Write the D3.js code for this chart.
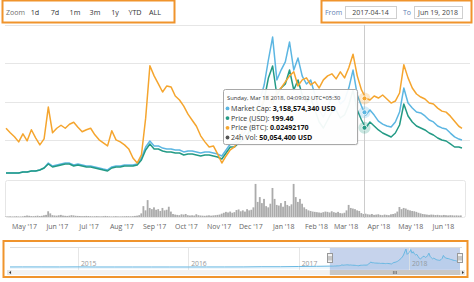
<!DOCTYPE html>
<html>
<head>
<meta charset="utf-8">
<script src="https://cdn.jsdelivr.net/npm/d3@7"></script>
<style>
  body { margin: 0; background: #fff; }
  svg { display: block; font-family: "Open Sans", sans-serif; }
</style>
</head>
<body>
<div id="chart"></div>
<script>

// ---- data ----
const startDate = "2017-04-14";
const endDate = "2018-06-19";

// line series: every 4 days from start, last point on end date
const lineDays = d3.range(0, 429, 4).concat([431]);

const marketCapB = [
    0.33, 0.33, 0.33, 0.33, 0.37, 0.37, 0.42, 0.42, 0.47, 0.56,
    0.79, 0.65, 0.70, 0.75, 0.79, 0.79, 0.70, 0.75, 0.70, 0.65,
    0.65, 0.61, 0.56, 0.51, 0.47, 0.61, 0.65, 0.65, 0.70, 0.70,
    0.70, 0.75, 1.03, 1.54, 1.82, 1.59, 1.59, 1.49, 1.45, 1.45,
    1.40, 1.40, 1.31, 1.35, 1.35, 1.31, 1.26, 1.31, 1.31, 1.26,
    1.21, 1.12, 1.40, 1.68, 1.73, 1.91, 2.10, 2.43, 2.80, 3.17,
    3.73, 4.43, 5.60, 6.67, 4.67, 5.13, 5.51, 6.44, 5.13, 5.69,
    4.85, 4.48, 4.67, 3.97, 3.27, 2.94, 3.41, 3.87, 4.01, 3.55,
    3.73, 4.29, 5.13, 3.97, 3.45, 3.03, 3.27, 3.03, 2.75, 2.61,
    2.52, 2.47, 2.71, 3.17, 4.29, 3.59, 3.36, 3.17, 3.13, 2.99,
    2.80, 2.71, 2.52, 2.43, 2.38, 2.19, 2.01, 1.91, 1.87
];

const priceUsd = [
    23.4, 23.4, 23.4, 23.4, 27.3, 27.3, 31.1, 31.1, 35.0, 42.8,
    58.4, 46.7, 50.6, 54.5, 58.4, 58.4, 50.6, 54.5, 50.6, 46.7,
    46.7, 42.8, 38.9, 35.0, 31.1, 42.8, 46.7, 46.7, 50.6, 50.6,
    50.6, 54.5, 74.0, 113.0, 136.3, 116.8, 116.8, 109.0, 105.1, 105.1,
    101.2, 101.2, 93.4, 97.3, 97.3, 93.4, 89.5, 93.4, 93.4, 89.5,
    85.6, 77.9, 101.2, 124.6, 124.6, 140.1, 151.8, 171.3, 198.5, 221.9,
    260.8, 307.5, 393.2, 439.9, 327.0, 354.3, 369.8, 424.3, 346.5, 385.4,
    327.0, 299.8, 315.3, 268.6, 221.9, 198.5, 229.7, 260.8, 268.6, 237.5,
    249.2, 288.1, 346.5, 268.6, 229.7, 198.5, 221.9, 206.3, 190.8, 179.1,
    171.3, 163.5, 179.1, 210.2, 292.0, 245.3, 221.9, 206.3, 198.5, 190.8,
    179.1, 171.3, 159.6, 151.8, 147.9, 136.3, 124.6, 124.6, 120.7
];

const priceBtc = [
    0.0190, 0.0181, 0.0173, 0.0163, 0.0179, 0.0165, 0.0187, 0.0171, 0.0157, 0.0169,
    0.0232, 0.0181, 0.0190, 0.0196, 0.0190, 0.0198, 0.0202, 0.0192, 0.0183, 0.0187,
    0.0190, 0.0177, 0.0167, 0.0161, 0.0155, 0.0185, 0.0167, 0.0163, 0.0157, 0.0149,
    0.0131, 0.0121, 0.0137, 0.0210, 0.0314, 0.0294, 0.0278, 0.0262, 0.0274, 0.0272,
    0.0254, 0.0246, 0.0234, 0.0218, 0.0206, 0.0194, 0.0175, 0.0163, 0.0153, 0.0155,
    0.0139, 0.0121, 0.0135, 0.0147, 0.0153, 0.0167, 0.0187, 0.0202, 0.0210, 0.0222,
    0.0230, 0.0246, 0.0256, 0.0238, 0.0262, 0.0270, 0.0282, 0.0294, 0.0302, 0.0274,
    0.0286, 0.0290, 0.0276, 0.0282, 0.0270, 0.0286, 0.0294, 0.0298, 0.0288, 0.0302,
    0.0290, 0.0310, 0.0337, 0.0294, 0.0266, 0.0250, 0.0246, 0.0254, 0.0250, 0.0256,
    0.0248, 0.0240, 0.0244, 0.0260, 0.0316, 0.0290, 0.0270, 0.0258, 0.0252, 0.0248,
    0.0240, 0.0238, 0.0230, 0.0224, 0.0222, 0.0214, 0.0204, 0.0194, 0.0190
];

// 24h volume (million USD), every 2 days from start
const volumeM = [
    8, 10, 12, 9, 11, 14, 10, 9, 12, 18,
    25, 20, 15, 14, 18, 22, 16, 20, 28, 35,
    95, 60, 30, 25, 22, 28, 35, 24, 20, 18,
    22, 30, 26, 20, 18, 16, 14, 15, 18, 16,
    14, 12, 13, 15, 12, 11, 14, 18, 15, 12,
    10, 12, 14, 11, 10, 12, 13, 15, 14, 12,
    14, 18, 22, 30, 60, 180, 110, 280, 150, 130,
    160, 120, 130, 100, 150, 110, 120, 170, 90, 50,
    40, 35, 30, 45, 40, 50, 30, 25, 28, 24,
    45, 30, 25, 22, 20, 24, 28, 22, 26, 30,
    35, 40, 55, 70, 85, 75, 90, 70, 80, 115,
    125, 95, 110, 90, 130, 110, 120, 160, 548, 250,
    330, 230, 300, 180, 160, 220, 481, 300, 200, 190,
    230, 170, 265, 200, 180, 210, 548, 330, 250, 300,
    220, 160, 130, 110, 100, 90, 85, 80, 75, 70,
    80, 90, 85, 75, 95, 80, 70, 85, 65, 60,
    70, 110, 200, 150, 140, 130, 110, 100, 65, 50,
    55, 45, 40, 50, 35, 40, 45, 35, 30, 40,
    35, 30, 45, 50, 60, 90, 166, 130, 150, 140,
    120, 110, 100, 95, 85, 70, 60, 50, 45, 40,
    35, 40, 38, 32, 36, 30, 28, 34, 30, 26,
    30, 28, 25, 27, 24, 26
];

// navigator: older market cap history (billion USD)
const navHistDates = ["2014-05-21", "2014-07-01", "2014-09-01", "2014-11-01", "2015-01-01", "2015-03-01",
    "2015-05-01", "2015-07-01", "2015-09-01", "2015-11-01", "2016-01-01", "2016-03-01", "2016-05-01",
    "2016-07-01", "2016-09-01", "2016-11-01", "2017-01-01", "2017-03-01"];
const navHistCap = [0.02, 0.03, 0.025, 0.02, 0.05, 0.006, 0.01, 0.008, 0.006, 0.007, 0.006, 0.02,
    0.02, 0.03, 0.1, 0.1, 0.19, 0.25];

const zoomButtons = ["1d", "7d", "1m", "3m", "1y", "YTD", "ALL"];

// hovered point
const tipDate = "2018-03-18";
const tipHeader = "Sunday, Mar 18 2018, 04:09:02 UTC+05:30";
const tipCap = 3.158574340;
const tipUsd = 199.46;
const tipBtc = 0.02492170;
const tipVol = 50.0544;

// ---- drawing ----
const W = 474, H = 282;
const parse = d3.utcParse("%Y-%m-%d");
const t0 = parse(startDate), t1 = parse(endDate);

const colors = {cap: "#5cb6e2", usd: "#239a85", btc: "#f5a52e", vol: "#ababab", frame: "#f0942c"};

const lineData = lineDays.map((d, i) => ({
    date: d3.utcDay.offset(t0, d),
    cap: marketCapB[i],
    usd: priceUsd[i],
    btc: priceBtc[i]
}));
const volData = volumeM.map((v, i) => ({date: d3.utcDay.offset(t0, i * 2), vol: v}));

const svg = d3.select("#chart").append("svg")
    .attr("width", W)
    .attr("height", H);

const x = d3.scaleTime().domain([t0, t1]).range([6, 462]);
const yUsd = d3.scaleLinear().domain([0, 580]).range([179, 30]);
const yCap = d3.scaleLinear().domain([0, 7]).range([180, 30]);
const yBtc = d3.scaleLinear().domain([0, 0.0385]).range([224, 30]);
const yVol = d3.scaleLinear().domain([0, 580]).range([217, 182]);

// gridlines
svg.append("g").selectAll("line")
    .data([150, 300, 450, 600])
    .join("line")
    .attr("x1", 5).attr("x2", 470)
    .attr("y1", d => Math.round(yUsd(d)) + 0.5)
    .attr("y2", d => Math.round(yUsd(d)) + 0.5)
    .attr("stroke", "#e6e6e6");

// volume panel
svg.append("rect")
    .attr("x", 5.5).attr("y", 180.5)
    .attr("width", 460).attr("height", 37)
    .attr("rx", 2)
    .attr("fill", "none")
    .attr("stroke", "#e6e6e6");

const bw = x(d3.utcDay.offset(t0, 2)) - x(t0);
svg.append("g").selectAll("rect")
    .data(volData)
    .join("rect")
    .attr("x", d => x(d.date) - bw / 2)
    .attr("width", bw - 0.3)
    .attr("y", d => yVol(d.vol))
    .attr("height", d => yVol(0) - yVol(d.vol))
    .attr("fill", colors.vol);

// crosshair
const tipT = d3.utcHour.offset(parse(tipDate), -2);
const cx = Math.round(x(tipT)) + 0.5;
svg.append("line")
    .attr("x1", cx).attr("x2", cx)
    .attr("y1", 25).attr("y2", 218)
    .attr("stroke", "#cccccc");

// series lines
const series = [
    {key: "cap", y: yCap, color: colors.cap},
    {key: "usd", y: yUsd, color: colors.usd},
    {key: "btc", y: yBtc, color: colors.btc}
];
series.forEach(s => {
    svg.append("path")
        .datum(lineData)
        .attr("fill", "none")
        .attr("stroke", s.color)
        .attr("stroke-width", 1.5)
        .attr("stroke-linejoin", "round")
        .attr("d", d3.line().x(d => x(d.date)).y(d => s.y(d[s.key])));
});

// hover markers
const markers = [
    {y: yCap(tipCap), color: colors.cap},
    {y: yUsd(tipUsd), color: colors.usd},
    {y: yBtc(tipBtc), color: colors.btc}
];
markers.forEach(m => {
    svg.append("circle").attr("cx", cx).attr("cy", m.y).attr("r", 6)
        .attr("fill", m.color).attr("opacity", 0.25);
    svg.append("circle").attr("cx", cx).attr("cy", m.y).attr("r", 2.5)
        .attr("fill", m.color).attr("stroke", "#fff").attr("stroke-width", 0.8);
});

// tooltip
const tip = svg.append("g").attr("transform", "translate(223,89)");
tip.append("rect")
    .attr("x", 1.5).attr("y", 1.5).attr("width", 134).attr("height", 55)
    .attr("rx", 2).attr("fill", "#000").attr("opacity", 0.08);
tip.append("rect")
    .attr("x", 0.5).attr("y", 0.5).attr("width", 134).attr("height", 55)
    .attr("rx", 2).attr("fill", "rgba(255,255,255,0.94)").attr("stroke", "#a8a8a8");
tip.append("text")
    .attr("x", 4).attr("y", 10.5)
    .attr("font-size", 5.8).attr("fill", "#333")
    .text(tipHeader);

const tipRows = [
    {label: "Market Cap: ", value: d3.format(",")(Math.round(tipCap * 1e9)) + " USD", color: colors.cap},
    {label: "Price (USD): ", value: tipUsd.toFixed(2), color: colors.usd},
    {label: "Price (BTC): ", value: tipBtc.toFixed(8), color: colors.btc},
    {label: "24h Vol: ", value: d3.format(",")(Math.round(tipVol * 1e6)) + " USD", color: "#555"}
];
tipRows.forEach((r, i) => {
    const ty = 21.8 + i * 9.7;
    tip.append("circle").attr("cx", 4.5).attr("cy", ty - 2.4).attr("r", 1.9).attr("fill", r.color);
    const t = tip.append("text")
        .attr("x", 8).attr("y", ty)
        .attr("font-size", 7.1).attr("fill", "#333");
    t.append("tspan").text(r.label);
    t.append("tspan").attr("font-weight", "bold").attr("fill", "#111").text(r.value);
});

// month axis
const xAxis = d3.axisBottom(x)
    .ticks(d3.utcMonth.every(1))
    .tickFormat(d3.utcFormat("%b '%y"))
    .tickSize(0)
    .tickPadding(6);
const axisG = svg.append("g").attr("transform", "translate(0,218)").call(xAxis);
axisG.select(".domain").remove();
axisG.selectAll("text")
    .attr("font-family", "Open Sans")
    .attr("font-size", 7)
    .attr("fill", "#666");

// ---- top controls ----
svg.append("rect")
    .attr("x", 2.5).attr("y", 0.5).attr("width", 172).attr("height", 22)
    .attr("fill", "none").attr("stroke", colors.frame).attr("stroke-width", 2);
svg.append("text").attr("x", 6).attr("y", 14.5)
    .attr("font-size", 7).attr("fill", "#6f6f6f").text("Zoom");
svg.append("g").selectAll("text")
    .data(zoomButtons)
    .join("text")
    .attr("x", (d, i) => 35 + i * 20)
    .attr("y", 14.5)
    .attr("text-anchor", "middle")
    .attr("font-size", 7.2)
    .attr("fill", "#333")
    .text(d => d);

svg.append("rect")
    .attr("x", 321.5).attr("y", 0.5).attr("width", 150).attr("height", 22)
    .attr("fill", "none").attr("stroke", colors.frame).attr("stroke-width", 2);
svg.append("text").attr("x", 325).attr("y", 14.5)
    .attr("font-size", 7).attr("fill", "#5f7fb3").text("From");
svg.append("text").attr("x", 403).attr("y", 14.5)
    .attr("font-size", 7).attr("fill", "#5f7fb3").text("To");
[{x0: 345, x1: 396, label: startDate}, {x0: 414, x1: 462, label: "Jun 19, 2018"}].forEach(b => {
    svg.append("rect")
        .attr("x", b.x0 + 0.5).attr("y", 6.5).attr("width", b.x1 - b.x0).attr("height", 12)
        .attr("fill", "#fff").attr("stroke", "#cfcfcf");
    svg.append("text")
        .attr("x", (b.x0 + b.x1) / 2).attr("y", 14.8)
        .attr("text-anchor", "middle")
        .attr("font-size", 7).attr("fill", "#444")
        .text(b.label);
});

// ---- navigator ----
const navData = navHistDates.map((d, i) => ({date: parse(d), cap: navHistCap[i]}))
    .concat(lineData.map(d => ({date: d.date, cap: d.cap})));

const nx = d3.scaleTime().domain([parse(navHistDates[0]), t1]).range([10, 460]);
const ny = d3.scaleLinear().domain([0, 6.67]).range([267, 249]);

svg.append("rect")
    .attr("x", 3.5).attr("y", 241).attr("width", 464).attr("height", 36)
    .attr("fill", "none").attr("stroke", colors.frame).attr("stroke-width", 2);

const selL = nx(t0), selR = nx(t1);
svg.append("rect")
    .attr("x", selL).attr("y", 247).attr("width", selR - selL).attr("height", 23)
    .attr("fill", "#c6d3ec");

const years = d3.utcYear.range(d3.utcYear.ceil(nx.domain()[0]), t1);
svg.append("g").selectAll("line")
    .data(years)
    .join("line")
    .attr("x1", d => Math.round(nx(d)) + 0.5)
    .attr("x2", d => Math.round(nx(d)) + 0.5)
    .attr("y1", 247).attr("y2", 270)
    .attr("stroke", "#e6e6e6");
svg.append("g").selectAll("text")
    .data(years)
    .join("text")
    .attr("x", d => nx(d) + 3)
    .attr("y", 266)
    .attr("font-size", 6.8)
    .attr("fill", "#999")
    .text(d3.utcFormat("%Y"));

svg.append("line")
    .attr("x1", 10).attr("x2", 462).attr("y1", 247.5).attr("y2", 247.5)
    .attr("stroke", "#dedede");

svg.append("path")
    .datum(navData)
    .attr("fill", "rgba(90,170,225,0.10)")
    .attr("d", d3.area().x(d => nx(d.date)).y0(269).y1(d => ny(d.cap)));
svg.append("path")
    .datum(navData)
    .attr("fill", "none")
    .attr("stroke", "#68b8e2")
    .attr("stroke-width", 1)
    .attr("d", d3.line().x(d => nx(d.date)).y(d => ny(d.cap)));

// handles
[selL, selR].forEach(hx => {
    svg.append("rect")
        .attr("x", Math.round(hx) - 2.5).attr("y", 253.5).attr("width", 5).attr("height", 9)
        .attr("fill", "#f2f2f2").attr("stroke", "#999");
    [-0.5, 1.5].forEach(o => {
        svg.append("line")
            .attr("x1", Math.round(hx) + o - 0.5).attr("x2", Math.round(hx) + o - 0.5)
            .attr("y1", 256).attr("y2", 260.5)
            .attr("stroke", "#666").attr("stroke-width", 0.6);
    });
});

// scrollbar
svg.append("rect")
    .attr("x", 7).attr("y", 270).attr("width", 458).attr("height", 5)
    .attr("fill", "#f2f2f2");
svg.append("rect")
    .attr("x", selL).attr("y", 270).attr("width", selR - selL).attr("height", 5)
    .attr("fill", "#c8c8c8");
[-1.5, 0, 1.5].forEach(o => {
    svg.append("line")
        .attr("x1", (selL + selR) / 2 + o).attr("x2", (selL + selR) / 2 + o)
        .attr("y1", 271).attr("y2", 274)
        .attr("stroke", "#555").attr("stroke-width", 0.6);
});
[{x0: 7, pts: "9,272.5 11,271 11,274"}, {x0: 460, pts: "464,272.5 462,271 462,274"}].forEach(b => {
    svg.append("rect").attr("x", b.x0).attr("y", 270).attr("width", 5).attr("height", 5)
        .attr("fill", "#e6e6e6");
    svg.append("polygon").attr("points", b.pts).attr("fill", "#333");
});

</script>
</body>
</html>
